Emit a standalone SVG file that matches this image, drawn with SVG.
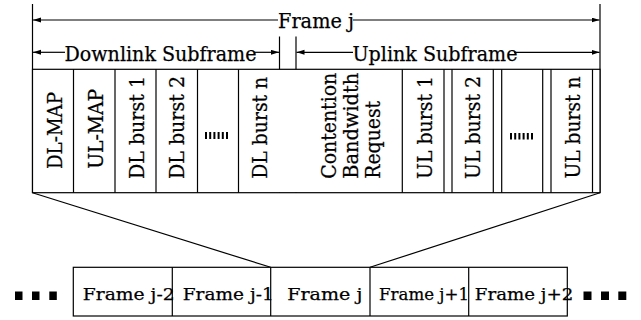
<svg xmlns="http://www.w3.org/2000/svg" width="641" height="320" viewBox="0 0 641 320">
  <defs>
    <marker id="arrow" markerUnits="userSpaceOnUse" markerWidth="9" markerHeight="6" refX="8" refY="2.5" orient="auto-start-reverse">
      <path d="M0,0 L8,2.5 L0,5 z" fill="#000"/>
    </marker>
  </defs>
  <style>
    .ln { stroke: #000; stroke-width: 1.2; fill: none; }
    .box { stroke: #000; stroke-width: 1.2; fill: #fff; }
    .lbl { font-family: "DejaVu Serif", "Liberation Serif", serif; font-size: 20px; fill: #000; stroke: #000; stroke-width: 0.25; }
    .seq { font-size: 17.5px; }
    .mid { text-anchor: middle; }
    .dot { fill: #000; }
  </style>
  <rect width="641" height="320" fill="#fff"/>

  <!-- frame extent markers -->
  <g id="frame-span">
    <line class="ln" x1="32.5" y1="4" x2="32.5" y2="193"/>
    <line class="ln" x1="600" y1="4" x2="600" y2="193"/>
    <line class="ln" x1="278" y1="20" x2="33" y2="20" marker-end="url(#arrow)"/>
    <line class="ln" x1="353" y1="20" x2="599.5" y2="20" marker-end="url(#arrow)"/>
    <text class="lbl" x="278" y="27.8" textLength="76" lengthAdjust="spacingAndGlyphs">Frame j</text>
  </g>

  <g id="downlink-span">
    <line class="ln" x1="279.5" y1="36.5" x2="279.5" y2="193"/>
    <line class="ln" x1="65" y1="52.3" x2="33" y2="52.3" marker-end="url(#arrow)"/>
    <line class="ln" x1="254" y1="52.3" x2="279" y2="52.3" marker-end="url(#arrow)"/>
    <text class="lbl" x="64.5" y="61" textLength="192" lengthAdjust="spacingAndGlyphs">Downlink Subframe</text>
  </g>

  <g id="uplink-span">
    <line class="ln" x1="296" y1="36.5" x2="296" y2="193"/>
    <line class="ln" x1="353" y1="52.3" x2="296.5" y2="52.3" marker-end="url(#arrow)"/>
    <line class="ln" x1="514" y1="52.3" x2="599.5" y2="52.3" marker-end="url(#arrow)"/>
    <text class="lbl" x="352.5" y="61" textLength="165" lengthAdjust="spacingAndGlyphs">Uplink Subframe</text>
  </g>

  <!-- frame j, slot by slot -->
  <g id="frame-j-slots">
    <rect class="box" x="32.5" y="69.3" width="567.5" height="123.4"/>
    <g id="dl-map">
      <line class="ln" x1="73.5" y1="69.3" x2="73.5" y2="192.7"/>
      <text class="lbl mid" transform="translate(61.7,130.5) rotate(-90)" textLength="77" lengthAdjust="spacingAndGlyphs">DL-MAP</text>
    </g>
    <g id="ul-map">
      <line class="ln" x1="115" y1="69.3" x2="115" y2="192.7"/>
      <text class="lbl mid" transform="translate(103.3,128.8) rotate(-90)" textLength="80" lengthAdjust="spacingAndGlyphs">UL-MAP</text>
    </g>
    <g id="dl-burst-1">
      <line class="ln" x1="156" y1="69.3" x2="156" y2="192.7"/>
      <text class="lbl mid" transform="translate(144,127.5) rotate(-90)" textLength="103" lengthAdjust="spacingAndGlyphs">DL burst 1</text>
    </g>
    <g id="dl-burst-2">
      <line class="ln" x1="197.5" y1="69.3" x2="197.5" y2="192.7"/>
      <text class="lbl mid" transform="translate(184.3,127.5) rotate(-90)" textLength="103" lengthAdjust="spacingAndGlyphs">DL burst 2</text>
    </g>
    <g id="dl-more">
      <line class="ln" x1="238.5" y1="69.3" x2="238.5" y2="192.7"/>
      <rect class="dot" x="205" y="132" width="2" height="7"/>
      <rect class="dot" x="209.2" y="132" width="2" height="7"/>
      <rect class="dot" x="213.4" y="132" width="2" height="7"/>
      <rect class="dot" x="217.6" y="132" width="2" height="7"/>
      <rect class="dot" x="221.8" y="132" width="2" height="7"/>
      <rect class="dot" x="226" y="132" width="2" height="7"/>
    </g>
    <g id="dl-burst-n">
      <text class="lbl mid" transform="translate(266.7,127.8) rotate(-90)" textLength="102" lengthAdjust="spacingAndGlyphs">DL burst n</text>
    </g>
    <g id="contention">
      <line class="ln" x1="402.3" y1="69.3" x2="402.3" y2="192.7"/>
      <text class="lbl" transform="translate(336,178.8) rotate(-90)" textLength="106" lengthAdjust="spacingAndGlyphs">Contention</text>
      <text class="lbl" transform="translate(358.3,178.8) rotate(-90)" textLength="106" lengthAdjust="spacingAndGlyphs">Bandwidth</text>
      <text class="lbl" transform="translate(380.3,178.8) rotate(-90)" textLength="78" lengthAdjust="spacingAndGlyphs">Request</text>
    </g>
    <g id="ul-burst-1">
      <line class="ln" x1="444" y1="69.3" x2="444" y2="192.7"/>
      <line class="ln" x1="452" y1="69.3" x2="452" y2="192.7"/>
      <text class="lbl mid" transform="translate(431.7,127.5) rotate(-90)" textLength="103" lengthAdjust="spacingAndGlyphs">UL burst 1</text>
    </g>
    <g id="ul-burst-2">
      <line class="ln" x1="493.3" y1="69.3" x2="493.3" y2="192.7"/>
      <line class="ln" x1="501.7" y1="69.3" x2="501.7" y2="192.7"/>
      <text class="lbl mid" transform="translate(480.3,127.5) rotate(-90)" textLength="103" lengthAdjust="spacingAndGlyphs">UL burst 2</text>
    </g>
    <g id="ul-more">
      <line class="ln" x1="542.7" y1="69.3" x2="542.7" y2="192.7"/>
      <line class="ln" x1="551" y1="69.3" x2="551" y2="192.7"/>
      <rect class="dot" x="510" y="133" width="2" height="6.5"/>
      <rect class="dot" x="514.2" y="133" width="2" height="6.5"/>
      <rect class="dot" x="518.4" y="133" width="2" height="6.5"/>
      <rect class="dot" x="522.6" y="133" width="2" height="6.5"/>
      <rect class="dot" x="526.8" y="133" width="2" height="6.5"/>
      <rect class="dot" x="531" y="133" width="2" height="6.5"/>
    </g>
    <g id="ul-burst-n">
      <line class="ln" x1="592.5" y1="69.3" x2="592.5" y2="192.7"/>
      <text class="lbl mid" transform="translate(580,127.5) rotate(-90)" textLength="102" lengthAdjust="spacingAndGlyphs">UL burst n</text>
    </g>
  </g>

  <!-- zoom-out lines from frame j to the frame sequence -->
  <g id="connectors">
    <line class="ln" x1="32.5" y1="192.7" x2="270.7" y2="267.3"/>
    <line class="ln" x1="600" y1="192.7" x2="370" y2="267.3"/>
  </g>

  <!-- frame sequence -->
  <g id="frame-seq">
    <rect class="box" x="73.3" y="267.3" width="494" height="48.7" fill="none"/>
    <g id="frame-j-2">
      <text class="lbl seq" x="82.7" y="299.5" textLength="92" lengthAdjust="spacingAndGlyphs">Frame j-2</text>
    </g>
    <g id="frame-j-1">
      <line class="ln" x1="172.3" y1="267.3" x2="172.3" y2="316"/>
      <text class="lbl seq" x="182.7" y="299.5" textLength="91" lengthAdjust="spacingAndGlyphs">Frame j-1</text>
    </g>
    <g id="frame-j">
      <line class="ln" x1="270.7" y1="267.3" x2="270.7" y2="316"/>
      <text class="lbl seq" x="287.3" y="299.5" textLength="75" lengthAdjust="spacingAndGlyphs">Frame j</text>
    </g>
    <g id="frame-j+1">
      <line class="ln" x1="370" y1="267.3" x2="370" y2="316"/>
      <text class="lbl seq" x="379" y="299.5" textLength="90" lengthAdjust="spacingAndGlyphs">Frame j+1</text>
    </g>
    <g id="frame-j+2">
      <line class="ln" x1="468.7" y1="267.3" x2="468.7" y2="316"/>
      <text class="lbl seq" x="474.8" y="299.5" textLength="98.5" lengthAdjust="spacingAndGlyphs">Frame j+2</text>
    </g>
    <g id="ellipsis-left">
      <rect class="dot" x="15" y="291.5" width="7.5" height="8.5"/>
      <rect class="dot" x="32" y="291.5" width="7.5" height="8.5"/>
      <rect class="dot" x="49.3" y="291.5" width="7.5" height="8.5"/>
    </g>
    <g id="ellipsis-right">
      <rect class="dot" x="583.5" y="291.5" width="8" height="8.5"/>
      <rect class="dot" x="601" y="291.5" width="8" height="8.5"/>
      <rect class="dot" x="618.3" y="291.5" width="8" height="8.5"/>
    </g>
  </g>
</svg>
